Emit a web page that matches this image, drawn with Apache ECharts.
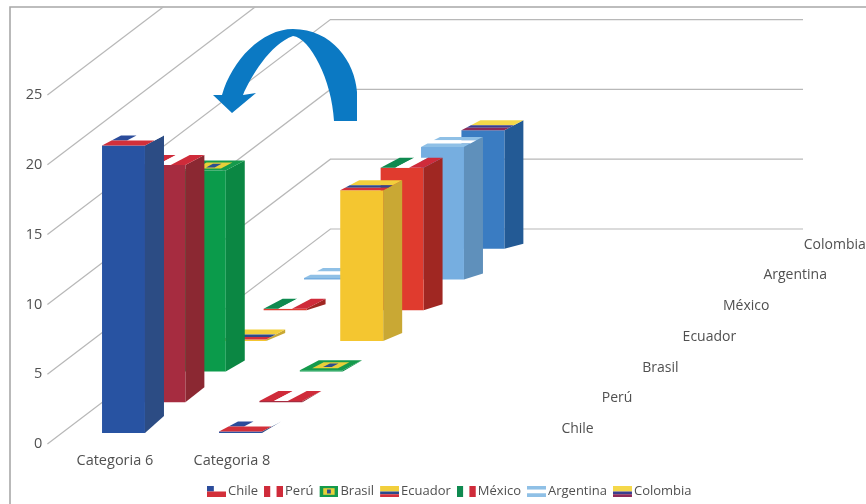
<!DOCTYPE html>
<html>
<head>
<meta charset="utf-8">
<title>Categorías por país</title>
<style>html,body{margin:0;padding:0;background:#fff}#chart{width:866px;height:504px}</style>
<script src="https://cdn.jsdelivr.net/npm/echarts@6/dist/echarts.min.js"></script>
</head>
<body>
<div id="chart"></div>
<script>
// Chart data
const categories = ['Categoria 6', 'Categoria 8', '', ''];
const countries = ['Chile', 'Perú', 'Brasil', 'Ecuador', 'México', 'Argentina', 'Colombia'];
const valueTicks = [0, 5, 10, 15, 20, 25];
const chile = [20.6, 0.1];
const peru = [17.0, 0.1];
const brasil = [14.4, 0.1];
const ecuador = [0.1, 10.8];
const mexico = [0.1, 10.2];
const argentina = [0.1, 9.5];
const colombia = [0.1, 8.5];
const seriesValues = [chile, peru, brasil, ecuador, mexico, argentina, colombia];

// Face colours of each bar
const frontColors = ['#2853a2', '#a62c40', '#0b9b4b', '#f4c630', '#e03b2e', '#76aee0', '#3a7cc2'];
const sideColors = ['#2c4c84', '#8b2832', '#0b8743', '#c9a834', '#a02722', '#5f90bb', '#235a95'];

// Flag painted on each bar's top face: [u0, v0, u1, v1, colour], v runs from back to front
const W = '#ffffff';
const flags = [
  [[0, 0, 1, .5, W], [0, 0, .36, .5, '#2b4c9b'], [0, .5, 1, 1, '#d3303a']],
  [[0, 0, .34, 1, '#cf2b3a'], [.34, 0, .66, 1, W], [.66, 0, 1, 1, '#cf2b3a']],
  [[0, 0, 1, 1, '#159a4c'], [.2, .2, .8, .8, '#e8cf3a'], [.4, .32, .6, .68, '#2c4f8f']],
  [[0, 0, 1, .5, '#f2cf3c'], [0, .5, 1, .75, '#2c4a8c'], [0, .75, 1, 1, '#d3303a']],
  [[0, 0, .34, 1, '#0f8a50'], [.34, 0, .66, 1, W], [.66, 0, 1, 1, '#cf2b3a']],
  [[0, 0, 1, .34, '#8fc0e6'], [0, .34, 1, .66, W], [0, .66, 1, 1, '#8fc0e6']],
  [[0, 0, 1, .5, '#f5d84a'], [0, .5, 1, .75, '#3a3f8f'], [0, .75, 1, 1, '#8c2a58']]
];

// Oblique projection of the floor: how far one country row shifts a bar
const slotDx = 40.4, slotDy = 30.7;
const rowInsetX = 14.6, rowInsetY = 11;
const barDepthX = 19, topDepthY = 10;
const floorSkew = [17, 15, 11, 8, 6, 6, 5];
const wallDx = 283, wallDy = 215, wallRight = 803, frameTop = 7;
const textColor = '#505050';
const fontFamily = '"Open Sans", sans-serif';
const arrowPath = 'M357 121 L357 92 C355 62 332 29 293 29 C262 29 232 60 222 95 L213 95 L232 113 L256 93 L243 95 C250 78 270 44 293 36 C310 38 332 80 334 121 Z';

function quad(a, b, c, d, fill) {
  return { type: 'polygon', shape: { points: [a, b, c, d] }, style: { fill: fill } };
}

// One 3D bar: side and front faces plus the flag on top
function renderBar(row) {
  return function (params, api) {
    const cat = api.value(0), val = api.value(1);
    const width = api.size([1, 0])[0] * 0.367;
    const base = api.coord([cat, 0]), top = api.coord([cat, val]);
    const x0 = base[0] - width / 2 + rowInsetX + row * slotDx;
    const x1 = x0 + width;
    const yB = base[1] - rowInsetY - row * slotDy;
    const yT = top[1] - rowInsetY - row * slotDy;
    const bx = barDepthX;
    // A very short bar's rear foot cannot rise above its rear top edge
    const rearFoot = Math.max(yB - floorSkew[row], yT - topDepthY);
    const children = [
      quad([x1, yT], [x1 + bx, yT - topDepthY], [x1 + bx, rearFoot], [x1, yB], sideColors[row]),
      quad([x0, yT], [x1, yT], [x1, yB], [x0, yB], frontColors[row])
    ];
    // u across the bar, v from the back edge to the front edge
    const pt = (u, v) => {
      const back = 1 - v;
      return [x0 + u * width + back * bx, yT - back * topDepthY];
    };
    flags[row].forEach(r => {
      children.push(quad(pt(r[0], r[1]), pt(r[2], r[1]), pt(r[2], r[3]), pt(r[0], r[3]), r[4]));
    });
    return { type: 'group', children: children };
  };
}

// Wall lines: diagonal across the side wall, then level along the back wall
function renderGridLine(params, api) {
  const v = api.value(0);
  const y = api.coord([0, v])[1];
  const x = api.coord([0, v])[0] - api.size([1, 0])[0] / 2 - 3;
  const style = { stroke: '#b8b8b8', lineWidth: 1.2, fill: null };
  let points;
  if (y - wallDy >= frameTop) {
    points = [[x, y], [x + wallDx, y - wallDy], [wallRight, y - wallDy]];
  } else {
    const t = (y - frameTop) / wallDy;
    points = [[x, y], [x + wallDx * t, frameTop]];
  }
  return { type: 'polyline', shape: { points: points }, style: style };
}

// Country names running along the depth axis
function renderDepthLabel(params, api) {
  const i = params.dataIndex;
  const base = api.coord([categories.length - 1, 0]);
  const x = base[0] + api.size([1, 0])[0] / 2 + 43 + i * slotDx;
  const y = base[1] - 15 - i * slotDy;
  return {
    type: 'text', x: x, y: y,
    style: { text: countries[i], fill: textColor, font: '14px ' + fontFamily, textAlign: 'left', textVerticalAlign: 'middle' }
  };
}

// Curved arrow drawn over the walls
function renderArrow() {
  return { type: 'path', shape: { pathData: arrowPath }, style: { fill: '#0b79c3' } };
}

function flagIcon(rects) {
  const body = rects.map(r =>
    `<rect x="${r[0] * 19}" y="${r[1] * 11}" width="${(r[2] - r[0]) * 19}" height="${(r[3] - r[1]) * 11}" fill="${r[4]}"/>`
  ).join('');
  const svg = `<svg xmlns="http://www.w3.org/2000/svg" width="19" height="11" viewBox="0 0 19 11">${body}</svg>`;
  return 'image://data:image/svg+xml;charset=utf-8,' + encodeURIComponent(svg);
}

const barSeries = countries.map((name, row) => ({
  type: 'custom',
  name: name,
  z: 20 - row,
  silent: true,
  renderItem: renderBar(row),
  encode: { x: 0, y: 1 },
  data: seriesValues[row].map((v, c) => [c, v])
}));

const chart = echarts.init(document.getElementById('chart'), null, { renderer: 'canvas' });
chart.setOption({
  animation: false,
  backgroundColor: '#ffffff',
  grid: { left: 50.4, width: 468, top: 95, height: 349, containLabel: false },
  xAxis: {
    type: 'category',
    data: categories,
    axisLine: { show: false },
    axisTick: { show: false },
    axisLabel: { interval: 0, color: textColor, margin: 9, padding: [0, 0, 0, 12], fontFamily: fontFamily, fontSize: 14.5 }
  },
  yAxis: {
    type: 'value',
    min: valueTicks[0],
    max: valueTicks[valueTicks.length - 1],
    interval: 5,
    axisLine: { show: false },
    axisTick: { show: false },
    splitLine: { show: false },
    axisLabel: { color: textColor, margin: 8, padding: [0, 0, 5, 0], fontFamily: fontFamily, fontSize: 14.5 }
  },
  legend: {
    data: countries.map((name, i) => ({ name: name, icon: flagIcon(flags[i]) })),
    left: 207,
    top: 485,
    itemWidth: 19,
    itemHeight: 11,
    itemGap: 6,
    padding: 0,
    selectedMode: false,
    textStyle: { color: textColor, fontFamily: fontFamily, fontSize: 13, padding: [0, 0, 0, -3] }
  },
  graphic: [
    { type: 'polyline', z: 1, silent: true, shape: { points: [[10, 504], [10, 7], [866, 7]] }, style: { stroke: '#a8a8a8', lineWidth: 1.6, fill: null } }
  ],
  series: [
    {
      type: 'custom', name: 'rejilla', z: 2, silent: true,
      renderItem: renderGridLine, encode: { x: -1, y: 0 },
      data: valueTicks.map(v => [v])
    },
    {
      type: 'custom', name: 'filas', z: 3, silent: true,
      renderItem: renderDepthLabel, encode: { x: -1, y: 0 },
      data: countries.map(() => [0])
    },
    {
      type: 'custom', name: 'flecha', z: 4, silent: true,
      renderItem: renderArrow, encode: { x: -1, y: 0 },
      data: [[0]]
    }
  ].concat(barSeries)
});
</script>
</body>
</html>
